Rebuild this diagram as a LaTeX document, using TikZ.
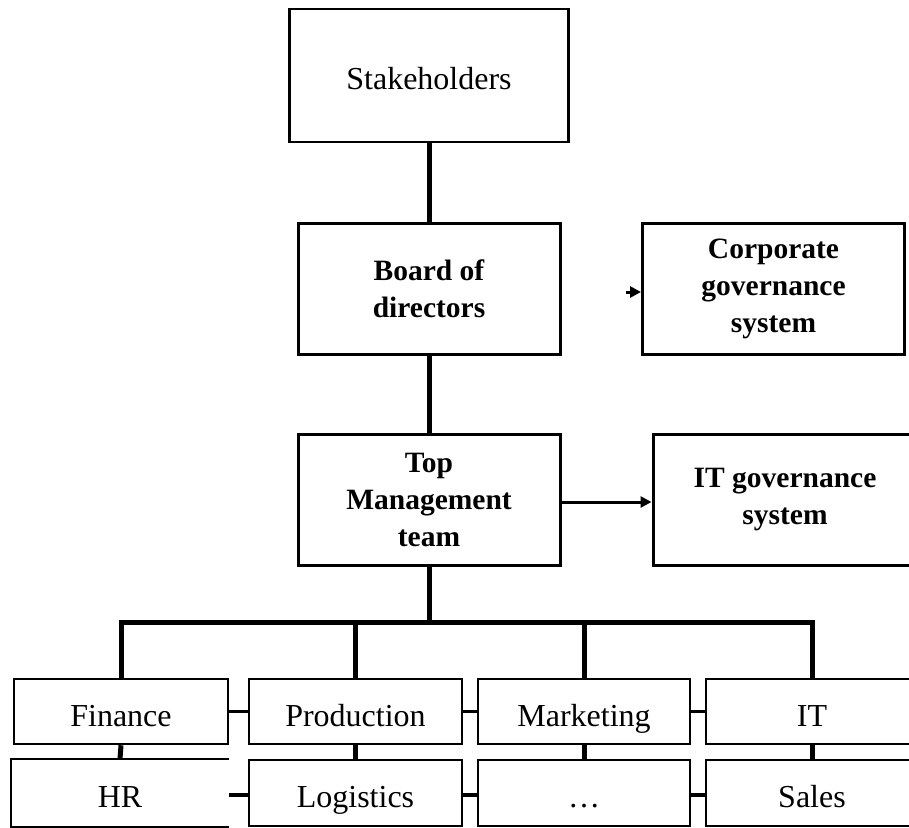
\documentclass[tikz,border=0pt]{standalone}
\usepackage{fontspec}
\setmainfont{Liberation Serif}
\usetikzlibrary{arrows.meta}
\begin{document}
\begin{tikzpicture}[x=1pt,y=-1pt,
  headbox/.style={draw, line width=3pt, minimum width=262pt, minimum height=131pt,
    inner sep=0pt, align=center, font=\fontsize{29.5}{37}\selectfont\bfseries},
  topbox/.style={draw, line width=2.5pt, minimum width=279pt, minimum height=133pt,
    inner sep=0pt, text height=27pt, text depth=0pt, font=\fontsize{32}{36}\selectfont},
  unit/.style={draw, line width=2.5pt, minimum width=213pt, minimum height=65pt,
    inner sep=0pt, text height=29pt, text depth=0pt, font=\fontsize{32}{36}\selectfont},
  link/.style={line width=5pt},
  joint/.style={line width=3.5pt},
  feed/.style={line width=3pt, -{Triangle[length=11pt,width=11pt]}}]
\useasboundingbox (0,0) rectangle (909,827);

% upper chain
\node[topbox] (stake) at (429,75.5) {Stakeholders};
\node[headbox] (board) at (429,289) {Board of\\directors};
\node[headbox] (corp) at (773.5,288.5) {Corporate\\governance\\system};
\node[headbox] (top) at (429,500) {Top\\Management\\team};
\node[headbox, minimum width=264pt] (itgov) at (785,500) {IT governance\\system};

% departments, first row
\node[unit, minimum width=214pt] (fin) at (121,711.5) {Finance};
\node[unit] (prod) at (355.5,711.5) {Production};
\node[unit, minimum width=212pt] (mkt) at (584,711.5) {Marketing};
\node[unit, minimum width=212pt] (itu) at (812,711.5) {IT};

% departments, second row
\node[unit, draw=none, minimum width=216pt, minimum height=66pt] (hr) at (120,793) {HR};
\node[unit, minimum height=66pt] (log) at (355.5,793) {Logistics};
\node[unit, minimum width=212pt, minimum height=66pt] (dots) at (584,793) {\dots};
\node[unit, minimum width=212pt, minimum height=66pt] (sales) at (812,793) {Sales};
\draw[line width=2.5pt] (hr.north east) -- (hr.north west) -- (hr.south west) -- (hr.south east);

% hierarchy lines
\coordinate (bar) at (429,622);
\coordinate (corpin) at (626,292);
\draw[link] (stake.south) -- (board.north);
\draw[link] (board.south) -- (top.north);
\draw[link] (top.south) -- (bar);
\draw[link] (fin.north) |- (bar) -| (itu.north);
\draw[link] (prod.north) -- (prod.north |- bar);
\draw[link] (mkt.north) -- (mkt.north |- bar);

% arrows to the governance systems
\draw[feed] (corpin) -- (corp.west |- corpin);
\draw[feed] (top.east |- 0,502) -- (itgov.west |- 0,502);

% links inside the department grid
\draw[joint] (fin.east) -- (prod.west);
\draw[joint] (prod.east) -- (mkt.west);
\draw[joint] (mkt.east) -- (itu.west);
\draw[joint] (hr.east |- 0,795) -- (log.west |- 0,795);
\draw[joint] (log.east |- 0,795) -- (dots.west |- 0,795);
\draw[joint] (dots.east |- 0,795) -- (sales.west |- 0,795);
\draw[link] (fin.south) -- (hr.north);
\draw[link] (prod.south) -- (log.north);
\draw[link] (mkt.south) -- (dots.north);
\draw[link] (itu.south) -- (sales.north);
\end{tikzpicture}
\end{document}
